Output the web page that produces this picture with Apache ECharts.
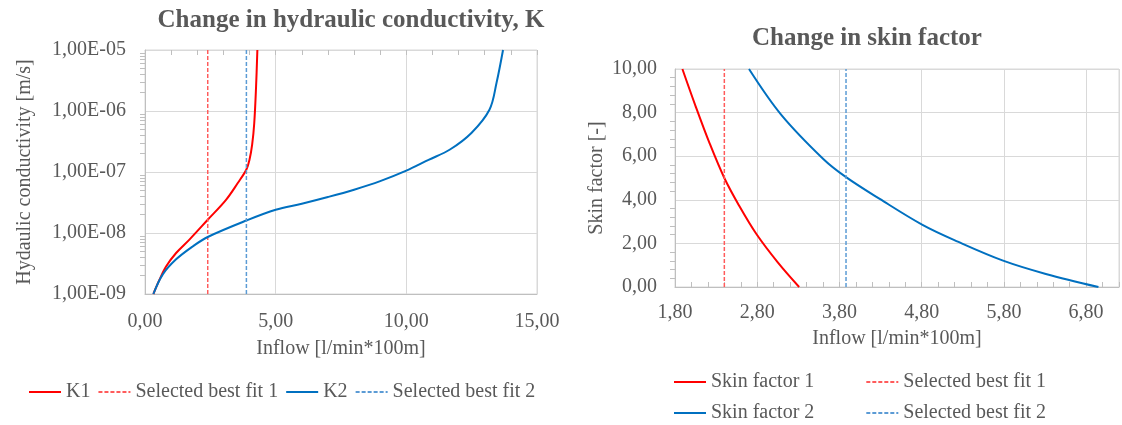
<!DOCTYPE html>
<html>
<head>
<meta charset="utf-8">
<script src="https://cdn.jsdelivr.net/npm/echarts@6/dist/echarts.min.js"></script>
<style>
  html, body { margin: 0; padding: 0; background: #fff; }
  #chart { width: 1122px; height: 425px; }
</style>
</head>
<body>
<div id="chart"></div>
<script>
// left chart: hydraulic conductivity vs inflow
const k1Flow = [0.32, 0.55, 0.80, 1.19, 1.70, 2.40, 3.10, 3.55, 3.88, 4.00, 4.10, 4.18, 4.25, 4.30];
const k1Value = [1.0e-9, 1.7e-9, 2.8e-9, 4.7e-9, 7.8e-9, 1.65e-8, 3.5e-8, 6.6e-8, 1.1e-7, 1.6e-7, 2.8e-7, 6.3e-7, 2.5e-6, 1.0e-5];
const k2Flow = [0.32, 0.68, 1.19, 1.82, 2.40, 3.88, 5.00, 6.00, 7.00, 8.00, 9.00, 10.00, 10.85, 11.67, 12.49, 13.18, 13.45, 13.70];
const k2Value = [1.0e-9, 2.1e-9, 3.7e-9, 6.0e-9, 8.6e-9, 1.6e-8, 2.4e-8, 3.02e-8, 3.89e-8, 5.13e-8, 7.08e-8, 1.05e-7, 1.58e-7, 2.34e-7, 4.37e-7, 1.05e-6, 2.88e-6, 1.0e-5];

// right chart: skin factor vs inflow
const s1Flow = [1.89, 2.05, 2.22, 2.40, 2.58, 2.79, 3.05, 3.31];
const s1Value = [10.0, 8.30, 6.60, 5.00, 3.73, 2.43, 1.13, 0.0];
const s2Flow = [2.70, 3.09, 3.61, 3.88, 4.29, 4.81, 5.24, 5.79, 6.31, 6.95];
const s2Value = [10.0, 7.91, 5.85, 5.04, 4.04, 2.85, 2.08, 1.21, 0.60, 0.0];

// selected best fits (vertical lines)
const bestFit1 = 2.40;
const bestFit2 = 3.88;
const kRange = [1e-9, 1e-5];
const skinRange = [0, 10];

const TXT = '#595959';
const FONT = 'Liberation Serif';
const GRID_C = '#D9D9D9';
const AXIS_C = '#BFBFBF';

const pairs = (xs, ys) => xs.map((x, i) => [x, ys[i]]);
const vline = (x, r) => [[x, r[0]], [x, r[1]]];
const fmtNum = v => v.toFixed(2).replace('.', ',');
const fmtExp = v => {
  const s = v.toExponential(2).split('e');
  const e = parseInt(s[1], 10);
  return s[0].replace('.', ',') + 'E' + (e < 0 ? '-' : '+') + String(Math.abs(e)).padStart(2, '0');
};

const solid = (name, color, data, xi, yi) => ({
  name, type: 'line', xAxisIndex: xi, yAxisIndex: yi, data,
  symbol: 'none', smooth: 0.35, lineStyle: { color, width: 2 }, itemStyle: { color }
});
const dashed = (name, color, data, xi, yi) => ({
  name, type: 'line', xAxisIndex: xi, yAxisIndex: yi, data,
  symbol: 'none', lineStyle: { color, width: 1.5, type: [4, 2] }, itemStyle: { color }
});

const labelStyle = { color: TXT, fontFamily: FONT, fontSize: 20 };
const nameStyle = { color: TXT, fontFamily: FONT, fontSize: 20 };
const legendText = { color: TXT, fontFamily: FONT, fontSize: 20 };

const myChart = echarts.init(document.getElementById('chart'));
const option = {
  animation: false,
  textStyle: { fontFamily: FONT },
  title: [
    { text: 'Change in hydraulic conductivity, K', left: 346, top: 3, textAlign: 'center',
      textStyle: { color: TXT, fontFamily: FONT, fontSize: 25, fontWeight: 'bold' } },
    { text: 'Change in skin factor', left: 862, top: 21, textAlign: 'center',
      textStyle: { color: TXT, fontFamily: FONT, fontSize: 25, fontWeight: 'bold' } }
  ],
  legend: [
    { data: ['K1', 'Selected best fit 1', 'K2', 'Selected best fit 2'], left: 28, top: 382, padding: 0,
      itemWidth: 32, itemHeight: 14, itemGap: 7, itemStyle: { opacity: 0 }, textStyle: legendText },
    { data: ['Skin factor 1', 'Selected best fit 1'], left: 673, top: 372, padding: 0,
      itemWidth: 32, itemHeight: 14, itemGap: 51, itemStyle: { opacity: 0 }, textStyle: legendText },
    { data: ['Skin factor 2', 'Selected best fit 2'], left: 673, top: 403, padding: 0,
      itemWidth: 32, itemHeight: 14, itemGap: 51, itemStyle: { opacity: 0 }, textStyle: legendText }
  ],
  grid: [
    { left: 145, top: 50, width: 392, height: 244, show: true, borderColor: GRID_C, borderWidth: 1 },
    { left: 675, top: 69, width: 444, height: 218, show: true, borderColor: GRID_C, borderWidth: 1 }
  ],
  xAxis: [
    { type: 'value', gridIndex: 0, min: 0, max: 15, interval: 5,
      name: 'Inflow [l/min*100m]', nameLocation: 'middle', nameGap: 45, nameTextStyle: nameStyle,
      axisLine: { lineStyle: { color: AXIS_C } }, axisTick: { show: false },
      axisLabel: { ...labelStyle, margin: 18, formatter: fmtNum },
      splitLine: { lineStyle: { color: GRID_C } } },
    { type: 'value', gridIndex: 0, position: 'top', min: 0, max: 15, interval: 1,
      axisLine: { show: true, lineStyle: { color: GRID_C } },
      axisTick: { show: true, inside: true, length: 5, lineStyle: { color: AXIS_C } },
      axisLabel: { show: false }, splitLine: { show: false } },
    { type: 'value', gridIndex: 1, min: 1.8, max: 7.2, interval: 1,
      name: 'Inflow [l/min*100m]', nameLocation: 'middle', nameGap: 42, nameTextStyle: nameStyle,
      axisLine: { lineStyle: { color: AXIS_C } }, axisTick: { show: false },
      axisLabel: { ...labelStyle, margin: 16, formatter: fmtNum, showMaxLabel: false },
      splitLine: { lineStyle: { color: GRID_C } } },
    { type: 'value', gridIndex: 1, position: 'bottom', min: 1.8, max: 7.2, interval: 0.2,
      axisLine: { show: false },
      axisTick: { show: true, inside: true, length: 5, lineStyle: { color: AXIS_C } },
      axisLabel: { show: false }, splitLine: { show: false } }
  ],
  yAxis: [
    { type: 'log', gridIndex: 0, logBase: 10, min: kRange[0], max: kRange[1],
      name: 'Hydaulic conductivity [m/s]', nameLocation: 'middle', nameGap: 110, nameTextStyle: nameStyle,
      axisLine: { show: true, lineStyle: { color: AXIS_C } },
      axisTick: { show: false },
      minorTick: { show: true, splitNumber: 9, length: 5, lineStyle: { color: AXIS_C } },
      axisLabel: { ...labelStyle, margin: 19, formatter: fmtExp },
      splitLine: { lineStyle: { color: GRID_C } } },
    { type: 'value', gridIndex: 1, min: skinRange[0], max: skinRange[1], interval: 2,
      name: 'Skin factor [-]', nameLocation: 'middle', nameGap: 68, nameTextStyle: nameStyle,
      axisLine: { show: true, lineStyle: { color: AXIS_C } },
      axisTick: { show: false },
      minorTick: { show: true, splitNumber: 5, length: 5, lineStyle: { color: AXIS_C } },
      axisLabel: { ...labelStyle, margin: 18, formatter: fmtNum },
      splitLine: { lineStyle: { color: GRID_C } } }
  ],
  series: [
    solid('K1', '#FF0000', pairs(k1Flow, k1Value), 0, 0),
    dashed('Selected best fit 1', '#FF5B5B', vline(bestFit1, kRange), 0, 0),
    solid('K2', '#0070C0', pairs(k2Flow, k2Value), 0, 0),
    dashed('Selected best fit 2', '#5B9BD5', vline(bestFit2, kRange), 0, 0),
    solid('Skin factor 1', '#FF0000', pairs(s1Flow, s1Value), 2, 1),
    dashed('Selected best fit 1', '#FF5B5B', vline(bestFit1, skinRange), 2, 1),
    solid('Skin factor 2', '#0070C0', pairs(s2Flow, s2Value), 2, 1),
    dashed('Selected best fit 2', '#5B9BD5', vline(bestFit2, skinRange), 2, 1)
  ]
};
option && myChart.setOption(option);
</script>
</body>
</html>
